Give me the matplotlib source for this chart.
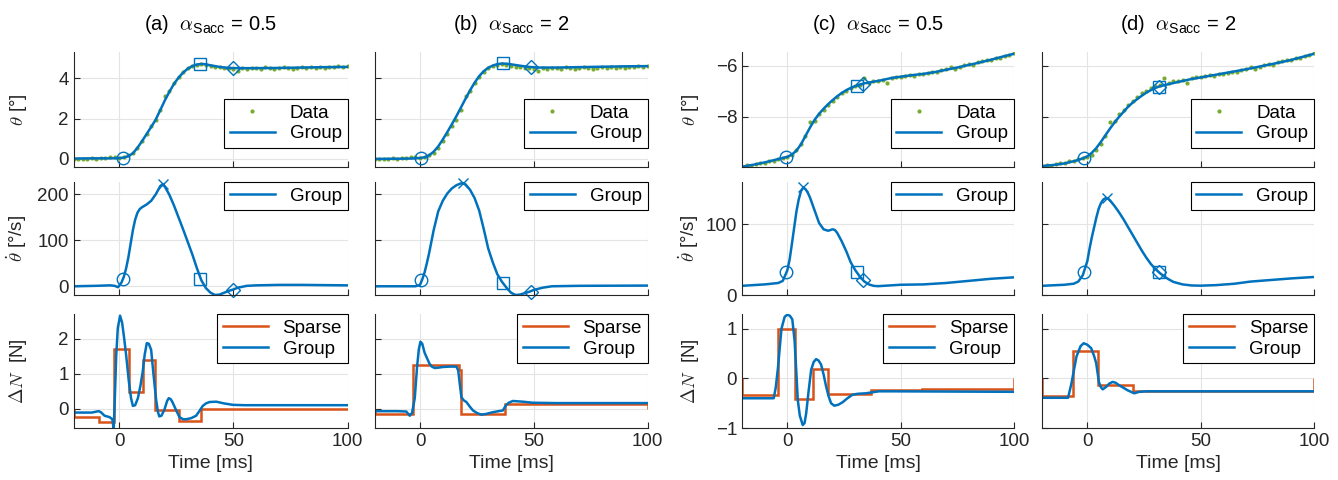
import matplotlib.pyplot as plt
import numpy as np

plt.rcParams['font.family'] = ['Liberation Sans', 'DejaVu Sans']
plt.rcParams['mathtext.fontset'] = 'cm'

# ---- trial 1: columns (a) alpha=0.5 and (b) alpha=2 ----
data1_t = np.arange(-20, 101, 2)
data1_th = [0.0, 0.02, 0.0, 0.01, 0.03, 0.02, 0.05, 0.04, 0.12, 0.1, 0.06, 0.08, 0.2, 0.3,
            0.55, 0.9, 1.25, 1.62, 1.95, 2.42, 3.1, 3.38, 3.75, 4.08, 4.33, 4.5, 4.6, 4.68,
            4.7, 4.66, 4.6, 4.58, 4.55, 4.5, 4.52, 4.45, 4.38, 4.5, 4.48, 4.52, 4.5, 4.47,
            4.55, 4.5, 4.48, 4.52, 4.55, 4.5, 4.47, 4.52, 4.55, 4.5, 4.58, 4.52, 4.55, 4.5,
            4.58, 4.55, 4.6, 4.57, 4.6]

ta_th = [-20, -10, -4, 0, 2, 4, 6, 8, 10, 12, 14, 16, 18, 20, 22, 24, 26, 28, 30, 32, 34, 36,
         38, 40, 44, 48, 52, 60, 70, 80, 90, 100]
th_a = [0.02, 0.03, 0.03, 0.04, 0.07, 0.13, 0.28, 0.55, 0.88, 1.23, 1.58, 1.95, 2.42, 2.9,
        3.33, 3.72, 4.03, 4.28, 4.47, 4.6, 4.68, 4.71, 4.69, 4.64, 4.56, 4.51, 4.5, 4.5,
        4.51, 4.53, 4.55, 4.56]
tb_th = [-20, -10, -4, -2, 0, 2, 4, 6, 8, 10, 12, 14, 16, 18, 20, 22, 24, 26, 28, 30, 32, 34,
         36, 38, 40, 44, 48, 52, 60, 70, 80, 90, 100]
th_b = [0.0, 0.01, 0.02, 0.03, 0.05, 0.08, 0.18, 0.36, 0.62, 0.96, 1.33, 1.72, 2.12, 2.55,
        2.98, 3.4, 3.78, 4.1, 4.35, 4.52, 4.63, 4.7, 4.73, 4.72, 4.69, 4.62, 4.56, 4.53,
        4.53, 4.55, 4.57, 4.59, 4.6]

ta_vel = [-20, -10, -4, -2, -0.5, 1, 2, 3, 4, 5, 6, 7, 8, 9, 10, 12, 14, 16, 18, 19, 20, 22,
          24, 26, 28, 30, 32, 34, 36, 38, 40, 42, 44, 46, 48, 50, 52, 56, 60, 70, 80, 90, 100]
vel_a = [0, 1, 2, 1, -2, 8, 20, 38, 62, 92, 122, 145, 160, 168, 172, 178, 186, 200, 218, 222,
         217, 199, 176, 150, 124, 97, 70, 40, 13, -4, -14, -19, -18, -14, -10, -7, -3, 1, 2,
         3, 3, 2.5, 2]
tb_vel = [-20, -10, -2, 0, 1, 2, 3, 4, 6, 8, 10, 12, 14, 16, 18, 19, 20, 22, 24, 26, 28, 30,
          32, 34, 36, 38, 40, 42, 44, 46, 48, 50, 54, 58, 70, 100]
vel_b = [0, 0, 0, 3, 15, 30, 50, 72, 122, 163, 186, 202, 213, 220, 224, 224, 222, 210, 192,
         165, 125, 82, 52, 26, 10, -3, -14, -19, -18, -15, -12, -8, -3, 0, 1, 1.5]

ta_dn = [-20, -12, -9, -8, -6.4, -4.2, -3, -2.4, -1.8, -1.3, -0.6, 0.4, 1.3, 2.2, 3.1, 4.2,
         5.2, 6, 7, 8.2, 9.3, 10.3, 11.2, 12.1, 13, 14, 15, 16.2, 17, 17.6, 18.5, 19.8, 21,
         21.7, 22.6, 23.4, 25, 26.4, 28, 29.3, 31.5, 33.7, 35, 36.6, 38, 39.5, 42.5, 46, 49.8,
         55, 100]
dn_a = [-0.11, -0.11, -0.07, -0.1, -0.2, -0.24, -0.3, -0.58, 0.5, 1.5, 2.3, 2.65, 2.45, 2.0,
        1.5, 0.8, 0.3, 0.08, 0.1, 0.3, 0.65, 1.05, 1.55, 1.87, 1.85, 1.68, 1.0, 0.25, -0.1,
        -0.22, -0.2, -0.03, 0.22, 0.3, 0.27, 0.18, -0.05, -0.24, -0.3, -0.3, -0.27, -0.2,
        -0.08, 0.08, 0.15, 0.19, 0.2, 0.15, 0.11, 0.1, 0.1]
tb_dn = [-20, -10, -6, -4.5, -3.5, -2.3, -1.3, -0.5, 0.2, 1, 2, 2.8, 4.2, 5.2, 6.5, 8, 10.2,
         13, 16, 16.8, 17.5, 18.2, 19.2, 20.4, 22, 23.3, 25, 26.9, 29, 32, 34.5, 36.4, 37.8,
         39, 40.8, 43, 45.2, 49.5, 60, 100]
dn_b = [-0.07, -0.07, -0.08, -0.2, -0.12, 0.3, 1.19, 1.7, 1.91, 1.85, 1.6, 1.48, 1.28, 1.2,
        1.16, 1.17, 1.19, 1.2, 1.2, 1.09, 0.7, 0.33, 0.24, 0.19, 0.05, -0.05, -0.12, -0.17,
        -0.15, -0.1, -0.07, -0.05, 0.1, 0.17, 0.22, 0.21, 0.2, 0.17, 0.16, 0.16]

sp_edges_a = [-20, -8.9, -2.1, 4.2, 10.3, 15.9, 26, 35.9, 100]
sp_a = [-0.25, -0.37, 1.7, 0.48, 1.38, -0.04, -0.35, -0.02]
sp_edges_b = [-20, -3, 17.1, 18.2, 37.4, 100]
sp_b = [-0.15, 1.24, 1.1, -0.15, 0.13]

# ---- trial 2: columns (c) alpha=0.5 and (d) alpha=2 ----
data2_t = np.arange(-20, 101, 2)
data2_th = [-9.98, -9.9, -9.92, -9.85, -9.82, -9.8, -9.74, -9.72, -9.66, -9.62, -9.57, -9.5,
            -9.3, -9.05, -8.75, -8.22, -8.15, -7.9, -7.72, -7.55, -7.38, -7.22, -7.08, -6.98,
            -6.88, -6.8, -6.75, -6.46, -6.66, -6.6, -6.58, -6.55, -6.67, -6.48, -6.45, -6.42,
            -6.4, -6.35, -6.38, -6.3, -6.32, -6.27, -6.22, -6.25, -6.15, -6.12, -6.05, -6.1,
            -6.02, -5.97, -5.93, -5.95, -5.85, -5.82, -5.78, -5.75, -5.7, -5.68, -5.6, -5.57,
            -5.5]

tc_th = [-20, -15, -10, -5, 0, 2, 4, 6, 8, 10, 12, 14, 16, 18, 20, 22, 24, 26, 28, 30, 32, 34,
         38, 42, 46, 50, 55, 60, 65, 70, 75, 80, 85, 90, 95, 100]
th_c = [-9.96, -9.88, -9.79, -9.68, -9.57, -9.48, -9.33, -9.08, -8.75, -8.42, -8.12, -7.88,
        -7.68, -7.5, -7.34, -7.19, -7.06, -6.95, -6.86, -6.79, -6.73, -6.68, -6.62, -6.55,
        -6.47, -6.42, -6.36, -6.31, -6.24, -6.15, -6.06, -5.96, -5.86, -5.75, -5.63, -5.52]
td_th = [-20, -15, -10, -5, -2, 0, 2, 4, 6, 8, 10, 12, 14, 16, 18, 20, 22, 24, 26, 28, 30, 32,
         36, 40, 45, 50, 55, 60, 65, 70, 75, 80, 85, 90, 95, 100]
th_d = [-9.93, -9.89, -9.83, -9.72, -9.63, -9.55, -9.41, -9.22, -8.98, -8.72, -8.46, -8.22,
        -8.0, -7.8, -7.6, -7.44, -7.3, -7.17, -7.05, -6.95, -6.86, -6.8, -6.71, -6.63, -6.53,
        -6.45, -6.37, -6.29, -6.21, -6.13, -6.04, -5.95, -5.86, -5.76, -5.64, -5.52]

tc_vel = [-20, -10, -4, -2, 0, 1, 2, 3, 4, 5, 6, 7, 8, 9, 10, 12, 14, 16, 18, 20, 21, 22, 24,
          26, 28, 30, 32, 34, 36, 38, 40, 45, 50, 60, 70, 80, 90, 100]
vel_c = [13, 15, 17, 20, 35, 50, 72, 95, 118, 135, 147, 152, 150, 145, 138, 120, 102, 93, 91,
         93, 92, 88, 76, 62, 46, 35, 26, 19, 15, 13, 12.5, 13.5, 14.5, 15, 17, 20, 23, 25]
td_vel = [-20, -10, -6, -4, -2, 0, 1, 2, 3, 4, 5, 6, 7, 8, 9, 10, 12, 14, 16, 18, 20, 22, 24,
          26, 28, 30, 32, 34, 36, 38, 42, 46, 50, 57, 65, 72, 80, 90, 100]
vel_d = [13, 14.5, 16, 19, 28, 48, 66, 82, 96, 110, 122, 130, 135, 137, 137, 134, 126, 117,
         107, 96, 85, 74, 63, 53, 44, 37, 31, 26, 22, 18.5, 15, 13.5, 13.2, 14, 16, 19, 21,
         23.5, 25.5]

tc_dn = [-20, -6, -5.1, -4.1, -2.6, -1.2, 0, 1.2, 2.2, 3.2, 4, 4.6, 5.5, 6.8, 7.6, 8.3, 9.4,
         10.5, 11.6, 12.7, 13.8, 14.9, 16, 17.1, 18.2, 19.3, 20.7, 22.5, 24.4, 26.5, 28.7, 31,
         34.6, 40.4, 46.3, 100]
dn_c = [-0.4, -0.4, -0.18, 0.23, 1.0, 1.24, 1.29, 1.26, 1.19, 0.76, 0.1, -0.43, -0.75, -0.94,
        -0.9, -0.71, -0.25, 0.17, 0.33, 0.39, 0.36, 0.28, 0.08, -0.16, -0.36, -0.5, -0.55,
        -0.53, -0.48, -0.4, -0.33, -0.31, -0.3, -0.26, -0.26, -0.27]
td_dn = [-20, -8.5, -7, -4.8, -3, -1.6, 0, 1.7, 3, 3.9, 5.1, 6, 6.8, 8.3, 9.8, 11.2, 12.6,
         14.1, 16, 17.8, 20.7, 22.9, 26, 34.6, 100]
dn_d = [-0.39, -0.39, -0.1, 0.44, 0.65, 0.71, 0.68, 0.61, 0.45, 0.31, -0.07, -0.18, -0.22,
        -0.17, -0.1, -0.07, -0.09, -0.14, -0.19, -0.24, -0.3, -0.27, -0.26, -0.26, -0.26]

sp_edges_c = [-20, -4.1, 3.6, 11.2, 17.8, 37.1, 59.4, 100]
sp_c = [-0.34, 0.99, -0.41, 0.19, -0.31, -0.24, -0.22]
sp_edges_d = [-20, -6.3, 4.6, 20, 100]
sp_d = [-0.36, 0.56, -0.14, -0.25]

# events: onset (o), peak velocity (x), end (square), settle (diamond)
ev_t = {'a': [1.6, 19, 35.6, 49.8], 'b': [0.6, 18.9, 36.7, 48.8],
        'c': [-0.4, 7.1, 30.9, 33.6], 'd': [-1.5, 8.8, 31.4, 31.4]}
ev_th = {'a': [0.05, None, 4.7, 4.5], 'b': [0.05, None, 4.74, 4.55],
         'c': [-9.59, None, -6.77, -6.72], 'd': [-9.6, None, -6.82, -6.82]}
ev_vel = {'a': [16, 222, 15, -8], 'b': [13, 224, 6.5, -12],
          'c': [33, 153, 32, 21], 'd': [33, 137, 32.5, 32.5]}

titles = {'a': r'(a)  $\alpha_{\mathregular{Sacc}}$ = 0.5',
          'b': r'(b)  $\alpha_{\mathregular{Sacc}}$ = 2',
          'c': r'(c)  $\alpha_{\mathregular{Sacc}}$ = 0.5',
          'd': r'(d)  $\alpha_{\mathregular{Sacc}}$ = 2'}

cols = {
    'a': dict(data=(data1_t, data1_th), th=(ta_th, th_a), vel=(ta_vel, vel_a), dn=(ta_dn, dn_a), sp=(sp_edges_a, sp_a)),
    'b': dict(data=(data1_t, data1_th), th=(tb_th, th_b), vel=(tb_vel, vel_b), dn=(tb_dn, dn_b), sp=(sp_edges_b, sp_b)),
    'c': dict(data=(data2_t, data2_th), th=(tc_th, th_c), vel=(tc_vel, vel_c), dn=(tc_dn, dn_c), sp=(sp_edges_c, sp_c)),
    'd': dict(data=(data2_t, data2_th), th=(td_th, th_d), vel=(td_vel, vel_d), dn=(td_dn, dn_d), sp=(sp_edges_d, sp_d)),
}

blue = '#0072BD'
orange = '#D95319'
green = '#77AC30'
axcol = '#262626'
marks = ['o', 'x', 's', 'D']
msizes = [9, 7, 8, 7.5]

W, H = 1338, 480
fig = plt.figure(figsize=(W / 100, H / 100), dpi=100)
col_px = {'a': (73.5, 274), 'b': (374.5, 273), 'c': (742, 272), 'd': (1042, 272)}
row_px = [(52, 167), (182, 295), (314, 428)]
ylims = {'ab': [(-0.4, 5.3), (-19, 227), (-0.55, 2.7)],
         'cd': [(-9.97, -5.45), (0, 160), (-1, 1.3)]}
yticks = {'ab': [[0, 2, 4], [0, 100, 200], [0, 1, 2]],
          'cd': [[-8, -6], [0, 100], [-1, 0, 1]]}
ylabels = [r'$\theta$ [°]', r'$\dot{\theta}$ [°/s]', r'$\Delta N$  [N]']


def legend(ax, loc, anchor):
    leg = ax.legend(loc=loc, bbox_to_anchor=anchor, fontsize=13.5, frameon=True, fancybox=False,
                    edgecolor='k', framealpha=1, borderaxespad=0, handlelength=2.4,
                    handletextpad=0.8, borderpad=0.3, labelspacing=0.2)
    leg.get_frame().set_linewidth(0.8)


for key in 'abcd':
    c = cols[key]
    grp = 'ab' if key in 'ab' else 'cd'
    x0, w = col_px[key]
    axs = []
    for i, (top, bot) in enumerate(row_px):
        ax = fig.add_axes([x0 / W, 1 - bot / H, w / W, (bot - top) / H])
        ax.set_xlim(-20, 100)
        ax.set_ylim(ylims[grp][i])
        ax.set_xticks([0, 50, 100])
        ax.set_yticks(yticks[grp][i])
        ax.grid(True, color='#e4e4e4', lw=0.8)
        ax.set_axisbelow(True)
        ax.spines['top'].set_visible(False)
        ax.spines['right'].set_visible(False)
        for s in ['left', 'bottom']:
            ax.spines[s].set_color(axcol)
            ax.spines[s].set_linewidth(0.8)
        ax.tick_params(direction='in', length=4, width=0.8, colors=axcol, labelsize=13.5,
                       labelbottom=(i == 2), labelleft=(key in 'ac'))
        if key in 'ac':
            ax.set_ylabel(ylabels[i], fontsize=13.5, color=axcol)
            ax.yaxis.set_label_coords(-0.162 if key == 'a' else -0.15, 0.5)
        axs.append(ax)

    # row 1: angle
    ax = axs[0]
    ax.plot(c['data'][0], c['data'][1], 'o', color=green, ms=3, mew=0, label='Data')
    ax.plot(c['th'][0], c['th'][1], '-', color=blue, lw=1.8, label='Group')
    for t, v, m, s in zip(ev_t[key], ev_th[key], marks, msizes):
        if v is not None:
            ax.plot(t, v, m, mfc='none', mec=blue, ms=s, mew=1, clip_on=False)
    ax.set_title(titles[key], fontsize=14.5, pad=16)
    legend(ax, 'lower right', (1, 0.165))

    # row 2: velocity
    ax = axs[1]
    ax.plot(c['vel'][0], c['vel'][1], '-', color=blue, lw=1.8, label='Group')
    for t, v, m, s in zip(ev_t[key], ev_vel[key], marks, msizes):
        ax.plot(t, v, m, mfc='none', mec=blue, ms=s, mew=1, clip_on=False)
    legend(ax, 'upper right', (1, 1))

    # row 3: force
    ax = axs[2]
    ax.stairs(c['sp'][1], c['sp'][0], color=orange, lw=1.8, label='Sparse')
    ax.plot(c['dn'][0], c['dn'][1], '-', color=blue, lw=1.8, label='Group')
    ax.set_xlabel('Time [ms]', fontsize=14, color=axcol)
    legend(ax, 'upper right', (1, 1))

fig.savefig('out.png', dpi=100)
